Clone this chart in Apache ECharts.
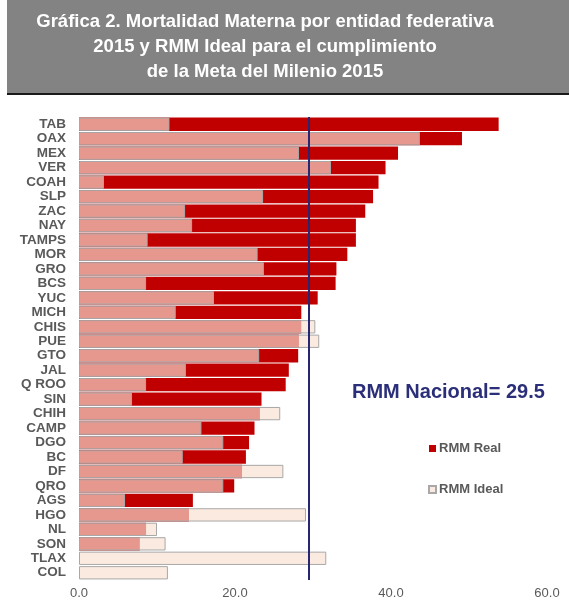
<!DOCTYPE html>
<html>
<head>
<meta charset="utf-8">
<style>html,body{margin:0;padding:0;background:#fff;}#chart{width:569px;height:600px;}</style>
<script src="https://cdn.jsdelivr.net/npm/echarts@6/dist/echarts.min.js"></script>
</head>
<body>
<div id="chart"></div>
<script>
const categories = ['TAB','OAX','MEX','VER','COAH','SLP','ZAC','NAY','TAMPS','MOR','GRO','BCS','YUC','MICH','CHIS','PUE','GTO','JAL','Q ROO','SIN','CHIH','CAMP','DGO','BC','DF','QRO','AGS','HGO','NL','SON','TLAX','COL'];
const rmmReal  = [53.8,49.1,40.9,39.3,38.4,37.7,36.7,35.5,35.5,34.4,33.0,32.9,30.6,28.5,28.5,28.2,28.1,26.9,26.5,23.4,23.2,22.5,21.8,21.4,20.9,19.9,14.6,14.1,8.6,7.8,0,0];
const rmmIdeal = [11.6,43.7,28.2,32.3,3.2,23.6,13.6,14.5,8.8,22.9,23.7,8.6,17.3,12.4,30.3,30.8,23.1,13.7,8.6,6.8,25.8,15.7,18.5,13.3,26.2,18.5,5.9,29.1,10.0,11.1,31.7,11.4];
const xTicks = [0, 20, 40, 60];
const nationalRMM = 29.5;
const titleLines = ['Gráfica 2. Mortalidad Materna por entidad federativa','2015 y RMM Ideal para el cumplimiento','de la Meta del Milenio 2015'];

const chart = echarts.init(document.getElementById('chart'), null, {renderer:'canvas'});
const font = 'Liberation Sans, Arial, sans-serif';
chart.setOption({
  animation: false,
  title: {
    text: titleLines.join('\n'),
    left: 265, top: 9, textAlign: 'center', padding: 0,
    textStyle: {color:'#ffffff', fontFamily: font, fontWeight:'bold', fontSize:18.5, lineHeight:25}
  },
  graphic: [
    {type:'rect', z:-1, shape:{x:7,y:0,width:562,height:94}, style:{fill:'#838383'}},
    {type:'rect', z:-1, shape:{x:7,y:93,width:562,height:2}, style:{fill:'#1a1a1a'}},
    {type:'text', left:352, top:382, style:{text:'RMM Nacional= ' + nationalRMM.toFixed(1), fill:'#2B2E78', font:'bold 20px ' + font}}
  ],
  legend: {
    orient:'vertical', left:423, top:437, itemGap:28, itemWidth:7, itemHeight:7,
    icon:'rect',
    textStyle:{color:'#595959', fontFamily:font, fontWeight:'bold', fontSize:13, padding:[0,0,0,-2]},
    data:['RMM Real','RMM Ideal']
  },
  grid: {left:79, right:22, top:117, height:463},
  xAxis: {
    type:'value', min:xTicks[0], max:xTicks[xTicks.length-1], interval:20,
    axisLine:{show:false}, axisTick:{show:false}, splitLine:{show:false},
    axisLabel:{color:'#595959', fontFamily:font, fontSize:13, margin:7, formatter:v=>v.toFixed(1)}
  },
  yAxis: {
    type:'category', data:categories, inverse:true,
    axisLine:{show:false}, axisTick:{show:false},
    axisLabel:{interval:0, color:'#595959', fontFamily:font, fontWeight:'bold', fontSize:13.5, margin:13}
  },
  series: [
    {
      name:'RMM Real', type:'bar', data:rmmReal, barCategoryGap:'8%', barGap:'-100%',
      itemStyle:{color:'#C00000'},
      markLine:{
        silent:true, symbol:'none', label:{show:false},
        lineStyle:{color:'#262673', width:2, type:'solid'},
        data:[{xAxis:nationalRMM}]
      }
    },
    {
      name:'RMM Ideal', type:'bar', data:rmmIdeal, barCategoryGap:'8%', barGap:'-100%',
      itemStyle:{color:'rgba(249,224,209,0.68)', borderColor:'#A8A8A8', borderWidth:1}
    }
  ]
});
</script>
</body>
</html>
